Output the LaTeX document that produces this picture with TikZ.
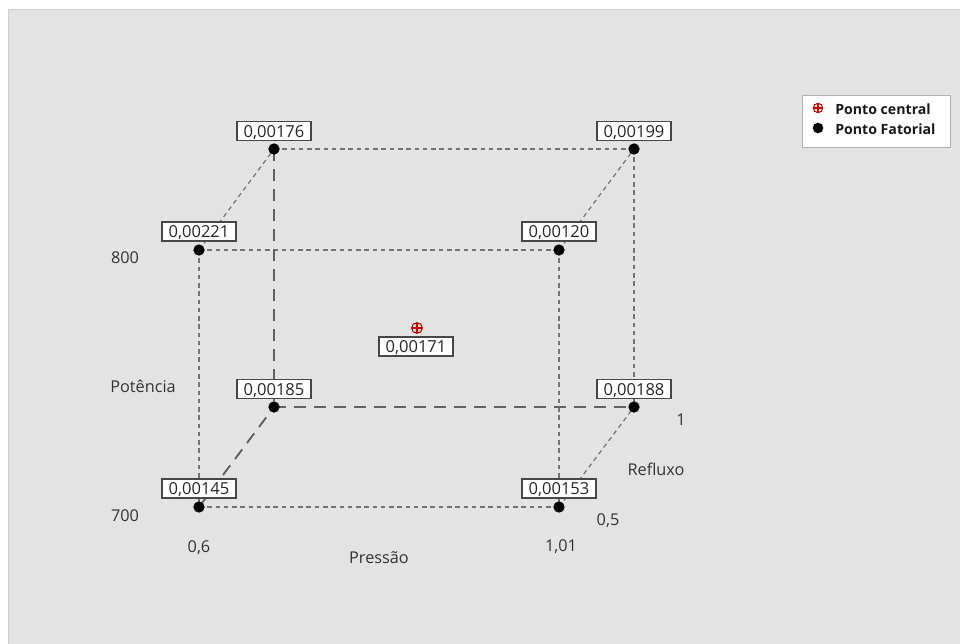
\documentclass[tikz,border=0pt]{standalone}
\usepackage{fontspec}
\setmainfont{Open Sans}
\begin{document}
\begin{tikzpicture}[x=0.75pt,y=-0.75pt,
  thin dash/.style={draw=black!55,line width=0.9pt,dash pattern=on 3.4pt off 2.8pt},
  thick dash/.style={draw=black!62,line width=1.4pt,dash pattern=on 9pt off 6pt},
  pt/.style={circle,fill=black,inner sep=0pt,minimum size=8.5pt},
  valbox/.style={draw=black!72,fill=white,line width=1pt,inner sep=0pt,minimum width=55.5pt,minimum height=14.2pt,text height=9pt,text depth=0pt,font=\fontsize{12.4}{13}\selectfont,text=black!85},
  axlab/.style={font=\fontsize{12.2}{13}\selectfont,text=black!80,inner sep=0pt},
  cross/.style={circle,draw=red!85!black,line width=0.8pt,inner sep=0pt,
    path picture={\draw[red!85!black,line width=0.8pt] (path picture bounding box.north) -- (path picture bounding box.south) (path picture bounding box.west) -- (path picture bounding box.east);}}]
\useasboundingbox (0,0) rectangle (960,643);
\fill[white] (0,0) rectangle (960,643);
\draw[fill=black!11,draw=black!18,line width=0.75pt] (8,9) rectangle (961,644);
% corners
\coordinate (fbl) at (199,507);
\coordinate (fbr) at (559,507);
\coordinate (ftl) at (199,250);
\coordinate (ftr) at (559,250);
\coordinate (bbl) at (274,407);
\coordinate (bbr) at (634,407);
\coordinate (btl) at (274,149);
\coordinate (btr) at (634,149);
% edges
\draw[thin dash] (ftl) -- (ftr);
\draw[thin dash] (fbl) -- (fbr);
\draw[thin dash] (ftl) -- (fbl);
\draw[thin dash] (ftr) -- (fbr);
\draw[thin dash] (btl) -- (btr);
\draw[thin dash] (btr) -- (bbr);
\draw[thin dash] (ftl) -- (btl);
\draw[thin dash] (ftr) -- (btr);
\draw[thin dash] (fbr) -- (bbr);
\draw[thick dash] (btl) -- (bbl);
\draw[thick dash] (bbl) -- (bbr);
\draw[thick dash] (fbl) -- (bbl);
% points
\foreach \c in {fbl,fbr,ftl,ftr,bbl,bbr,btl,btr} \node[pt] (d\c) at (\c) {};
% labels
\node[valbox] (lftl) at (199,231.5) {0,00221};
\node[valbox] (lftr) at (559,231.5) {0,00120};
\node[valbox] (lfbl) at (199,488.5) {0,00145};
\node[valbox] (lfbr) at (559,488.5) {0,00153};
\node[valbox] (lbtl) at (274,131) {0,00176};
\node[valbox] (lbtr) at (634,131) {0,00199};
\node[valbox] (lbbl) at (274,389) {0,00185};
\node[valbox] (lbbr) at (634,389) {0,00188};
% center point
\node[cross,minimum size=8pt] (cp) at (417,328) {};
\node[valbox] (lcp) at (416,346.5) {0,00171};
% axis labels
\node[axlab] (a800) at (125,258) {800};
\node[axlab] (a700) at (125,516) {700};
\node[axlab] (apot) at (143,386) {Potência};
\node[axlab] (a06) at (199,548) {0,6};
\node[axlab] (a101) at (561,547) {1,01};
\node[axlab] (apres) at (379,558) {Pressão};
\node[axlab] (a05) at (608,521) {0,5};
\node[axlab] (a1) at (681,420) {1};
\node[axlab] (aref) at (656,469) {Refluxo};
% legend
\node[draw=black!30,fill=white,line width=0.75pt,minimum width=111pt,minimum height=39pt,inner sep=0pt] (leg) at (876,121) {};
\node[cross,minimum size=7pt] (lsym1) at (818,108) {};
\node[circle,fill=black,inner sep=0pt,minimum size=8pt] (lsym2) at (818,128) {};
\node[anchor=west,inner sep=0pt,font=\bfseries\fontsize{10.6}{11}\selectfont,text=black!90] (lt1) at (835,109.5) {Ponto central};
\node[anchor=west,inner sep=0pt,font=\bfseries\fontsize{10.6}{11}\selectfont,text=black!90] (lt2) at (835,129.5) {Ponto Fatorial};
\end{tikzpicture}
\end{document}
